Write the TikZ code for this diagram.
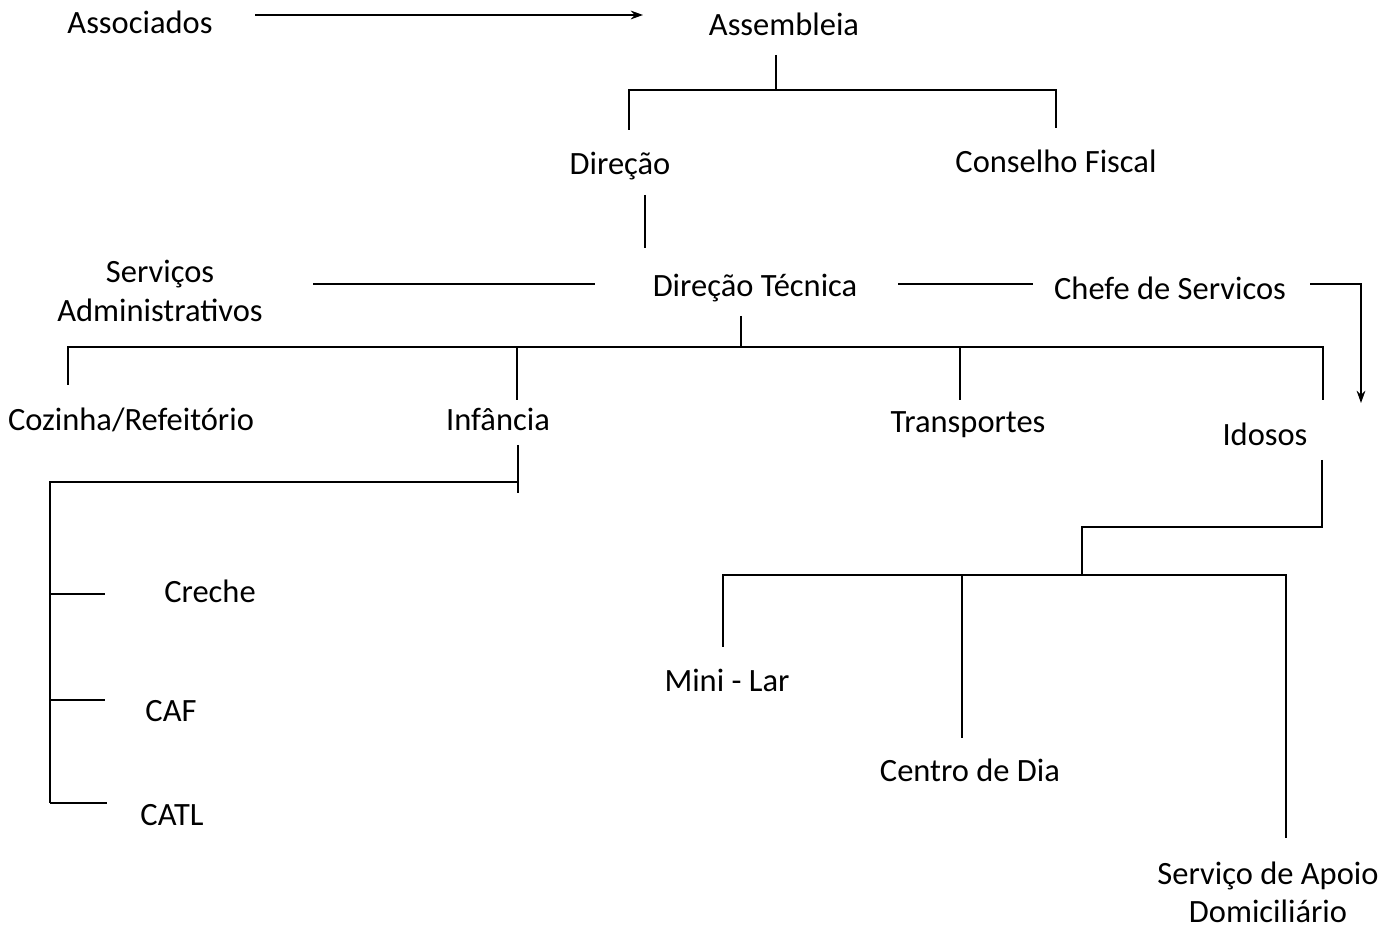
\documentclass[tikz,border=0pt]{standalone}
\usepackage{fontspec}
\setmainfont{Carlito}
\usetikzlibrary{arrows.meta}
\tikzset{
    chart line/.style={line width=0.8pt, black},
    arr/.style={chart line, -{Stealth[length=7pt,width=5pt]}},
    unit/.style={font=\fontsize{18.5}{21.5}\selectfont, inner sep=0pt, text height=0.7em, text depth=0.2em},
    two lines/.style={unit, align=center},
}

\begin{document}
\begin{tikzpicture}[x=0.02cm, y=-0.02cm]
    \useasboundingbox (0,0) rectangle (1397,928);

    % governing bodies
    \node[unit] (associados) at (140,29) {Associados};
    \node[unit] (assembleia) at (784,31) {Assembleia};
    \node[unit] (direcao) at (620,170) {Direção};
    \node[unit] (conselho) at (1056,168) {Conselho Fiscal};

    \coordinate (assoc out) at (255,15);
    \coordinate (assem in) at (643,15);
    \draw[arr] (assoc out) -- (assem in);

    \coordinate (assem foot) at (776,55);
    \coordinate (top bus) at (776,90);
    \coordinate (dir head) at (629,130);
    \coordinate (cf head) at (1056,128);
    \draw[chart line] (assem foot) -- (top bus);
    \draw[chart line] (dir head) |- (top bus) -| (cf head);

    % technical level
    \node[unit] (servicos) at (160,278) {Serviços};
    \node[unit] (administrativos) at (160,317) {Administrativos};
    \node[unit] (dirtec) at (755,292) {Direção Técnica};
    \node[unit] (chefe) at (1170,295) {Chefe de Servicos};

    \coordinate (dir foot) at (645,195);
    \coordinate (dirtec head) at (645,248);
    \draw[chart line] (dir foot) -- (dirtec head);

    \coordinate (admin out) at (313,284);
    \coordinate (dirtec west) at (595,284);
    \coordinate (dirtec east) at (898,284);
    \coordinate (chefe west) at (1033,284);
    \coordinate (chefe east) at (1310,284);
    \coordinate (ido arrow) at (1361,403);
    \draw[chart line] (admin out) -- (dirtec west);
    \draw[chart line] (dirtec east) -- (chefe west);
    \draw[arr] (chefe east) -| (ido arrow);

    % departments
    \node[unit] (cozinha) at (131,426) {Cozinha/Refeitório};
    \node[unit] (infancia) at (498,426) {Infância};
    \node[unit] (transportes) at (968,428) {Transportes};
    \node[unit] (idosos) at (1265,441) {Idosos};

    \coordinate (dirtec foot) at (741,316);
    \coordinate (mid bus) at (741,347);
    \coordinate (coz head) at (68,385);
    \coordinate (inf head) at (517,400);
    \coordinate (tra head) at (960,400);
    \coordinate (ido head) at (1323,400);
    \draw[chart line] (dirtec foot) -- (mid bus);
    \draw[chart line] (coz head) |- (mid bus) -| (ido head);
    \draw[chart line] (inf head) -- (inf head |- mid bus);
    \draw[chart line] (tra head) -- (tra head |- mid bus);

    % childhood services
    \node[unit] (creche) at (210,598) {Creche};
    \node[unit] (caf) at (171,717) {CAF};
    \node[unit] (catl) at (172,821) {CATL};

    \coordinate (inf foot) at (518,445);
    \coordinate (inf end) at (518,493);
    \coordinate (inf bus) at (518,482);
    \coordinate (left rail) at (50,803);
    \draw[chart line] (inf foot) -- (inf end);
    \draw[chart line] (inf bus) -| (left rail);
    \foreach \name/\y/\len in {creche/594/105, caf/700/105, catl/803/107}
        \draw[chart line] (50,\y) coordinate (\name tick) -- (\len,\y);

    % elderly services
    \node[unit] (minilar) at (727,687) {Mini - Lar};
    \node[unit] (centro) at (970,777) {Centro de Dia};
    \node[two lines] (sad) at (1268,918) {Serviço de Apoio\\Domiciliário};

    \coordinate (ido foot) at (1322,460);
    \coordinate (ido knee) at (1082,527);
    \coordinate (low bus) at (1082,575);
    \coordinate (mini head) at (723,647);
    \coordinate (centro head) at (962,738);
    \coordinate (sad head) at (1286,838);
    \draw[chart line] (ido foot) |- (ido knee) -- (low bus);
    \draw[chart line] (mini head) |- (low bus) -| (sad head);
    \draw[chart line] (centro head) -- (centro head |- low bus);
\end{tikzpicture}
\end{document}
